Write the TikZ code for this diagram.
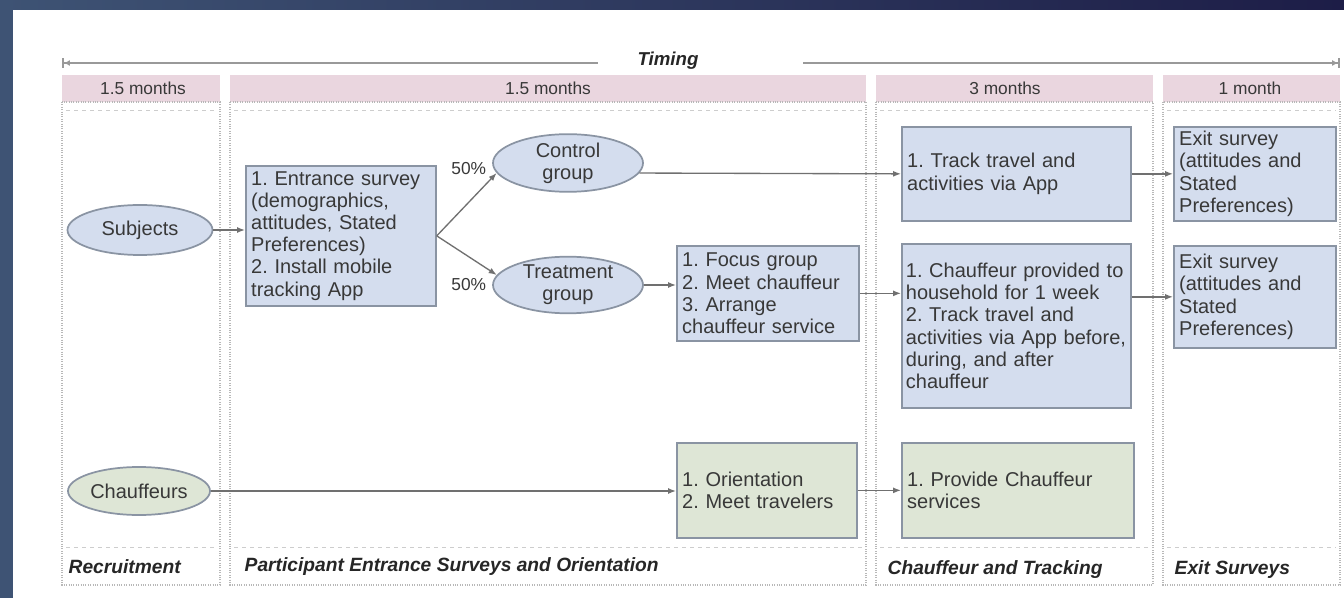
\documentclass[tikz,border=0pt]{standalone}
\usepackage{fontspec}
\setmainfont{Liberation Sans}
\usetikzlibrary{shapes.geometric,arrows.meta}
\frenchspacing
\hyphenpenalty=10000
\exhyphenpenalty=10000

\definecolor{slateA}{HTML}{3E5374}
\definecolor{slateB}{HTML}{1D1D47}
\definecolor{bluefill}{HTML}{D4DDEE}
\definecolor{greenfill}{HTML}{DEE6D6}
\definecolor{pinkbar}{HTML}{EAD6DF}
\definecolor{edge}{HTML}{8A94A3}
\definecolor{ink}{HTML}{383838}
\definecolor{lane}{HTML}{B8B8B8}
\definecolor{wire}{HTML}{707070}

\tikzset{
  body/.style={font=\fontsize{15}{16.6}\selectfont, text=ink},
  procbox/.style={draw=edge, line width=1.3pt, body, align=left,
    inner xsep=4pt, inner ysep=2pt, anchor=north west},
  bluebox/.style={procbox, fill=bluefill},
  greenbox/.style={procbox, fill=greenfill},
  oval/.style={ellipse, draw=edge, line width=1.3pt, body, align=center, inner sep=0pt},
  headbar/.style={fill=pinkbar, draw=none},
  headtext/.style={font=\fontsize{13}{15}\selectfont, text=ink},
  lanebox/.style={draw=lane, densely dotted, line width=0.8pt},
  laneline/.style={draw=lane!70, dashed, line width=0.6pt},
  phase/.style={font=\fontsize{14.4}{16}\selectfont\bfseries\itshape, text=black!85, anchor=west},
  flow/.style={draw=wire, line width=1pt, -{Latex[length=6pt,width=4.5pt]}},
  share/.style={font=\fontsize{13}{15}\selectfont, text=ink},
  rule/.style={draw=gray!80, line width=1.4pt},
}

\begin{document}
\begin{tikzpicture}[x=0.75pt,y=-0.75pt]
\useasboundingbox (0,0) rectangle (1344,598);
% slide frame and page
\shade[left color=slateA,right color=slateB] (0,0) rectangle (1344,598);
\fill[white] (13,10) rectangle (1344,598);

% timing bar
\node[font=\fontsize{14}{16}\selectfont\bfseries\itshape, text=black!85] (timing) at (668,61) {Timing};
\coordinate (tl) at (62,63);
\coordinate (tlm) at (598,63);
\coordinate (trm) at (803,63);
\coordinate (tr) at (1340,63);
\draw[rule, {Bar[width=7pt]Latex[length=4.5pt,width=4.5pt]}-] (tl) -- (tlm);
\draw[rule, -{Latex[length=4.5pt,width=4.5pt]Bar[width=7pt]}] (trm) -- (tr);

% phase header bars
\fill[headbar] (62,75) rectangle (220,102);
\fill[headbar] (230,75) rectangle (866,102);
\fill[headbar] (876,75) rectangle (1153,102);
\fill[headbar] (1163,75) rectangle (1340,102);
\node[headtext] (h1) at (143,88.5) {1.5 months};
\node[headtext] (h2) at (548,88.5) {1.5 months};
\node[headtext] (h3) at (1005,88.5) {3 months};
\node[headtext] (h4) at (1250,88.5) {1 month};

% swim lanes
\foreach \a/\b in {62/220, 230/866, 876/1153, 1163/1340}{
  \draw[lanebox] (\a,102) rectangle (\b,585);
  \draw[laneline] (\a+4,110) -- (\b-4,110);
  \draw[laneline] (\a+4,547) -- (\b-4,547);
}

% participants
\node[oval, fill=bluefill, minimum width=108.75pt, minimum height=37.5pt] (subj) at (140,230) {Subjects};
\node[bluebox, text width=134.5pt, minimum height=105pt] (entr) at (245,165)
  {1. Entrance survey\\(demographics,\\attitudes, Stated\\Preferences)\\2. Install mobile\\tracking App};
\node[oval, fill=bluefill, minimum width=112.5pt, minimum height=41.25pt] (ctrl) at (568,163) {Control\\group};
\node[oval, fill=bluefill, minimum width=112.5pt, minimum height=41.25pt] (treat) at (568,285) {Treatment\\group};
\node[bluebox, text width=128.5pt, minimum height=71.25pt] (focus) at (676,245)
  {1. Focus group\\2. Meet chauffeur\\3. Arrange\\chauffeur service};
\node[bluebox, text width=163.75pt, minimum height=70.5pt] (track) at (901,126)
  {1. Track travel and\\activities via App};
\node[bluebox, inner xsep=3pt, text width=165.75pt, minimum height=123pt] (chbox) at (901,243)
  {1. Chauffeur provided to\\household for 1 week\\2. Track travel and\\activities via App before,\\during, and after\\chauffeur};
\node[bluebox, text width=113.5pt, minimum height=70.5pt] (exit1) at (1173,126)
  {Exit survey\\(attitudes and\\Stated\\Preferences)};
\node[bluebox, text width=113.5pt, minimum height=76.5pt] (exit2) at (1173,245)
  {Exit survey\\(attitudes and\\Stated\\Preferences)};

% chauffeurs
\node[oval, fill=greenfill, minimum width=106.5pt, minimum height=36pt] (chauf) at (139,491) {Chauffeurs};
\node[greenbox, text width=127pt, minimum height=71.25pt] (orient) at (676,442)
  {1. Orientation\\2. Meet travelers};
\node[greenbox, text width=166pt, minimum height=71.25pt] (provide) at (901,442)
  {1. Provide Chauffeur\\services};

% flows
\draw[flow] (subj.east) -- (subj.east -| entr.west);
\draw[flow] (entr.east) -- (ctrl.188);
\draw[flow] (entr.east) -- (treat.172);
\node[share, anchor=east] (p1) at ([xshift=-1pt,yshift=-4pt]ctrl.west) {50\%};
\node[share, anchor=east] (p2) at ([xshift=-1pt]treat.west) {50\%};
\draw[flow] (ctrl.-8) -- (track.west);
\draw[flow] (treat.east) -- (treat.east -| focus.west);
\draw[flow] (focus.east) -- (focus.east -| chbox.west);
\draw[flow] (track.east) -- (exit1.west);
\draw[flow] (chbox.east |- exit2.west) -- (exit2.west);
\draw[flow] (chauf.east) -- (chauf.east -| orient.west);
\draw[flow] (orient.east) -- (provide.west);

% phase names
\node[phase] (ph1) at (64,567) {Recruitment};
\node[phase] (ph2) at (240,567) {Participant Entrance Surveys and Orientation};
\node[phase] (ph3) at (883,570) {Chauffeur and Tracking};
\node[phase] (ph4) at (1170,570) {Exit Surveys};
\end{tikzpicture}
\end{document}
